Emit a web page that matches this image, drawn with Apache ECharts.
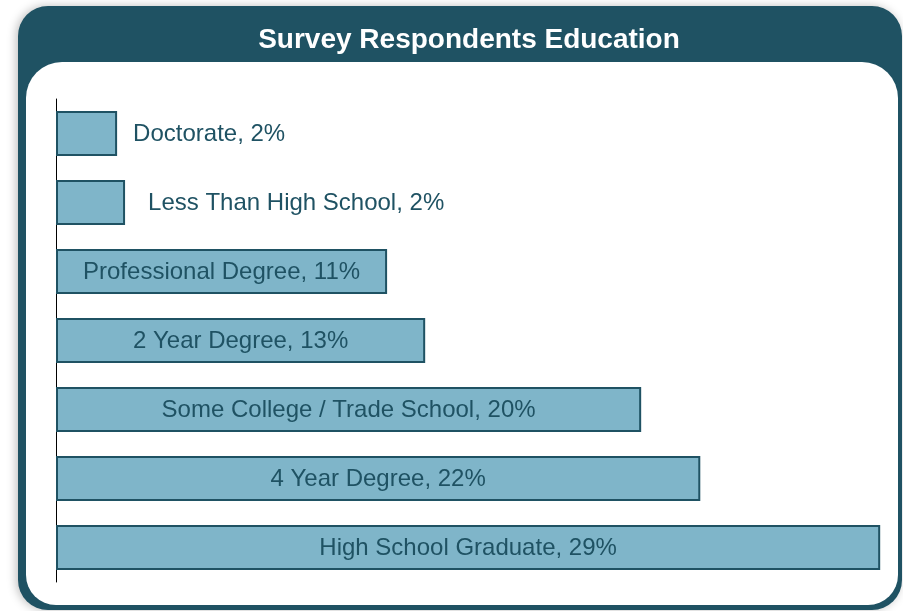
<!DOCTYPE html>
<html><head><meta charset="utf-8">
<script src="https://cdn.jsdelivr.net/npm/echarts@6/dist/echarts.min.js"></script>
<style>html,body{margin:0;padding:0;background:#fff}#c{width:903px;height:611px}</style>
</head><body><div id="c"></div>
<script>
const categories = ['Doctorate','Less Than High School','Professional Degree','2 Year Degree','Some College / Trade School','4 Year Degree','High School Graduate'];
const values = [2.15, 2.43, 11.65, 12.99, 20.59, 22.67, 29.0];
const shownPct = [2, 2, 11, 13, 20, 22, 29];
const outsideGap = [16, 23, 0, 0, 0, 0, 0];

const dark = '#1f5263';
const chart = echarts.init(document.getElementById('c'), null, {renderer:'canvas'});
const data = values.map((v,i)=>{
  const outside = shownPct[i] < 5;
  return {
    value: v,
    label: outside ? {position:'right', distance: outsideGap[i]} : {position:'inside'}
  };
});
chart.setOption({
  animation:false,
  backgroundColor:'#fff',
  title:{text:'Survey Respondents Education', left:464, top:21, textAlign:'center',
    textStyle:{color:'#fff', fontSize:28, fontWeight:'bold', fontFamily:'Liberation Sans, Arial, sans-serif'}},
  graphic:[
    {type:'rect', z:-10, shape:{x:18,y:6,width:884,height:604,r:30},
      style:{fill:dark, shadowBlur:10, shadowColor:'rgba(0,0,0,0.25)', shadowOffsetX:-2, shadowOffsetY:0}},
    {type:'rect', z:-9, shape:{x:26,y:62,width:872,height:543,r:[36,36,30,30]}, style:{fill:'#fff'}}
  ],
  grid:{left:56, top:99, height:483, width:838.4},
  xAxis:{type:'value', min:0, max:29.5, show:false},
  yAxis:{type:'category', data:categories, inverse:true,
    axisLine:{show:true, lineStyle:{color:'#000', width:1}}, axisTick:{show:false}, axisLabel:{show:false}, splitLine:{show:false}},
  series:[{
    type:'bar', data:data, barWidth:45,
    itemStyle:{color:'#7fb5c9', borderColor:dark, borderWidth:2},
    label:{show:true, color:dark, fontSize:24, offset:[0,1], fontFamily:'Liberation Sans, Arial, sans-serif',
      formatter:(p)=> categories[p.dataIndex] + ', ' + shownPct[p.dataIndex] + '%'}
  }]
});
</script></body></html>
